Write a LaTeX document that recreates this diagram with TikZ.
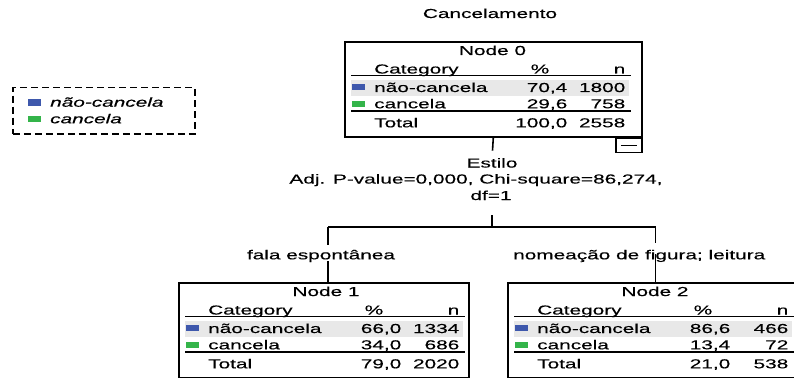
\documentclass[tikz,border=0pt]{standalone}
\usepackage{fontspec}
\setmainfont{Liberation Sans}[FakeStretch=1.6,FakeBold=0.3]
\definecolor{catblue}{RGB}{62,88,172}
\definecolor{catgreen}{RGB}{52,180,74}
\definecolor{rowshade}{RGB}{232,232,232}
\tikzset{
 txt/.style={font=\fontsize{13}{15}\selectfont, inner sep=0pt},
 boxframe/.style={draw, line width=1.6pt, inner sep=0pt},
 rule/.style={line width=1.3pt},
 conn/.style={line width=1.6pt},
 swatch/.style={inner sep=0pt, minimum width=13pt, minimum height=6.5pt},
}
\newcommand\cattable[7]{%
  \fill[rowshade] (7,39) rectangle (285,55);
  \draw[rule] (7,34.5) -- (287,34.5);
  \draw[rule] (7,70) -- (287,70);
  \node[txt,anchor=base west] (#1c) at (30,32.5) {Category};
  \node[txt,anchor=base] (#1p) at (196,32.5) {\%};
  \node[txt,anchor=base east] (#1n) at (281.5,32.5) {n};
  \node[swatch,fill=catblue] (#1s1) at (14.5,46.2) {};
  \node[txt,anchor=base west] (#1r1) at (30,51) {não-cancela};
  \node[txt,anchor=base east] (#1r1p) at (223.5,51) {#2};
  \node[txt,anchor=base east] (#1r1n) at (281.5,51) {#3};
  \node[swatch,fill=catgreen] (#1s2) at (14.5,62.8) {};
  \node[txt,anchor=base west] (#1r2) at (30,67.3) {cancela};
  \node[txt,anchor=base east] (#1r2p) at (223.5,67.3) {#4};
  \node[txt,anchor=base east] (#1r2n) at (281.5,67.3) {#5};
  \node[txt,anchor=base west] (#1t) at (30,86.3) {Total};
  \node[txt,anchor=base east] (#1tp) at (223.5,86.3) {#6};
  \node[txt,anchor=base east] (#1tn) at (281.5,86.3) {#7};
}
\begin{document}
\begin{tikzpicture}[x=1pt,y=-1pt]
\useasboundingbox (0,0) rectangle (794,377);
\clip (0,0) rectangle (794,377);

% title
\node[txt,anchor=base] (title) at (490,18) {Cancelamento};

% legend
\node[draw, dash pattern=on 7pt off 4pt, line width=1.5pt, inner sep=0pt,
      minimum width=182pt, minimum height=46pt, anchor=north west] (legend) at (12,87) {};
\node[swatch,fill=catblue] (lg1) at (34.5,102.3) {};
\node[txt,anchor=base west] (lgt1) at (50,106.7) {\itshape não-cancela};
\node[swatch,fill=catgreen] (lg2) at (34.5,119) {};
\node[txt,anchor=base west] (lgt2) at (50,123.3) {\itshape cancela};

% Node 0
\begin{scope}[shift={(344,41)}]
  \node[boxframe, minimum width=297pt, minimum height=95pt, anchor=north west] (n0) at (0,0) {};
  \node[txt,anchor=base] (n0title) at (148.5,14) {Node 0};
  \cattable{a}{70,4}{1800}{29,6}{758}{100,0}{2558}
\end{scope}
\node[draw, line width=1.3pt, inner sep=0pt, minimum width=26pt, minimum height=14.5pt,
      anchor=north east] (collapse) at (n0.south east) {};
\draw[line width=1.3pt] ([xshift=-8pt]collapse.center) -- ([xshift=8pt]collapse.center);

% split label
\coordinate (s0) at (492.5,150.7);
\draw[conn] (n0.south) -- (s0);
\node[txt,anchor=base] (estilo) at (492,167.5) {Estilo};
\node[txt,anchor=base] (adj) at (476,183.5) {Adj. P-value=0,000, Chi-square=86,274,};
\node[txt,anchor=base] (dfl) at (491,200) {df=1};

% Node 1
\begin{scope}[shift={(178,282)}]
  \node[boxframe, minimum width=290pt, minimum height=94.5pt, anchor=north west] (n1) at (0,0) {};
  \node[txt,anchor=base] (n1title) at (148,14) {Node 1};
  \cattable{b}{66,0}{1334}{34,0}{686}{79,0}{2020}
\end{scope}

% Node 2
\begin{scope}[shift={(507,282)}]
  \node[boxframe, minimum width=290pt, minimum height=94.5pt, anchor=north west] (n2) at (0,0) {};
  \node[txt,anchor=base] (n2title) at (148,14) {Node 2};
  \cattable{c}{86,6}{466}{13,4}{72}{21,0}{538}
\end{scope}

% connectors
\coordinate (jt) at (492,215);
\coordinate (jm) at (492,226.7);
\coordinate (jl) at (328,226.7);
\coordinate (jr) at (655.5,226.7);
\coordinate (l1) at (328,245);
\coordinate (l2) at (328,261);
\coordinate (n1top) at (328,282);
\coordinate (r1) at (655.5,243);
\coordinate (r2) at (655.5,254);
\coordinate (n2top) at (655.5,282);
\draw[conn] (jt) -- (jm);
\draw[conn] (jl) -- (jr);
\draw[conn] (jl) -- (l1);
\draw[conn] (l2) -- (n1top);
\draw[conn] (jr) -- (r1);
\draw[conn] (r2) -- (n2top);
\node[txt,anchor=base] (lab1) at (321,259.3) {fala espontânea};
\node[txt,anchor=base west] (lab2) at (513,259.3) {nomeação de figura; leitura};
\end{tikzpicture}
\end{document}
